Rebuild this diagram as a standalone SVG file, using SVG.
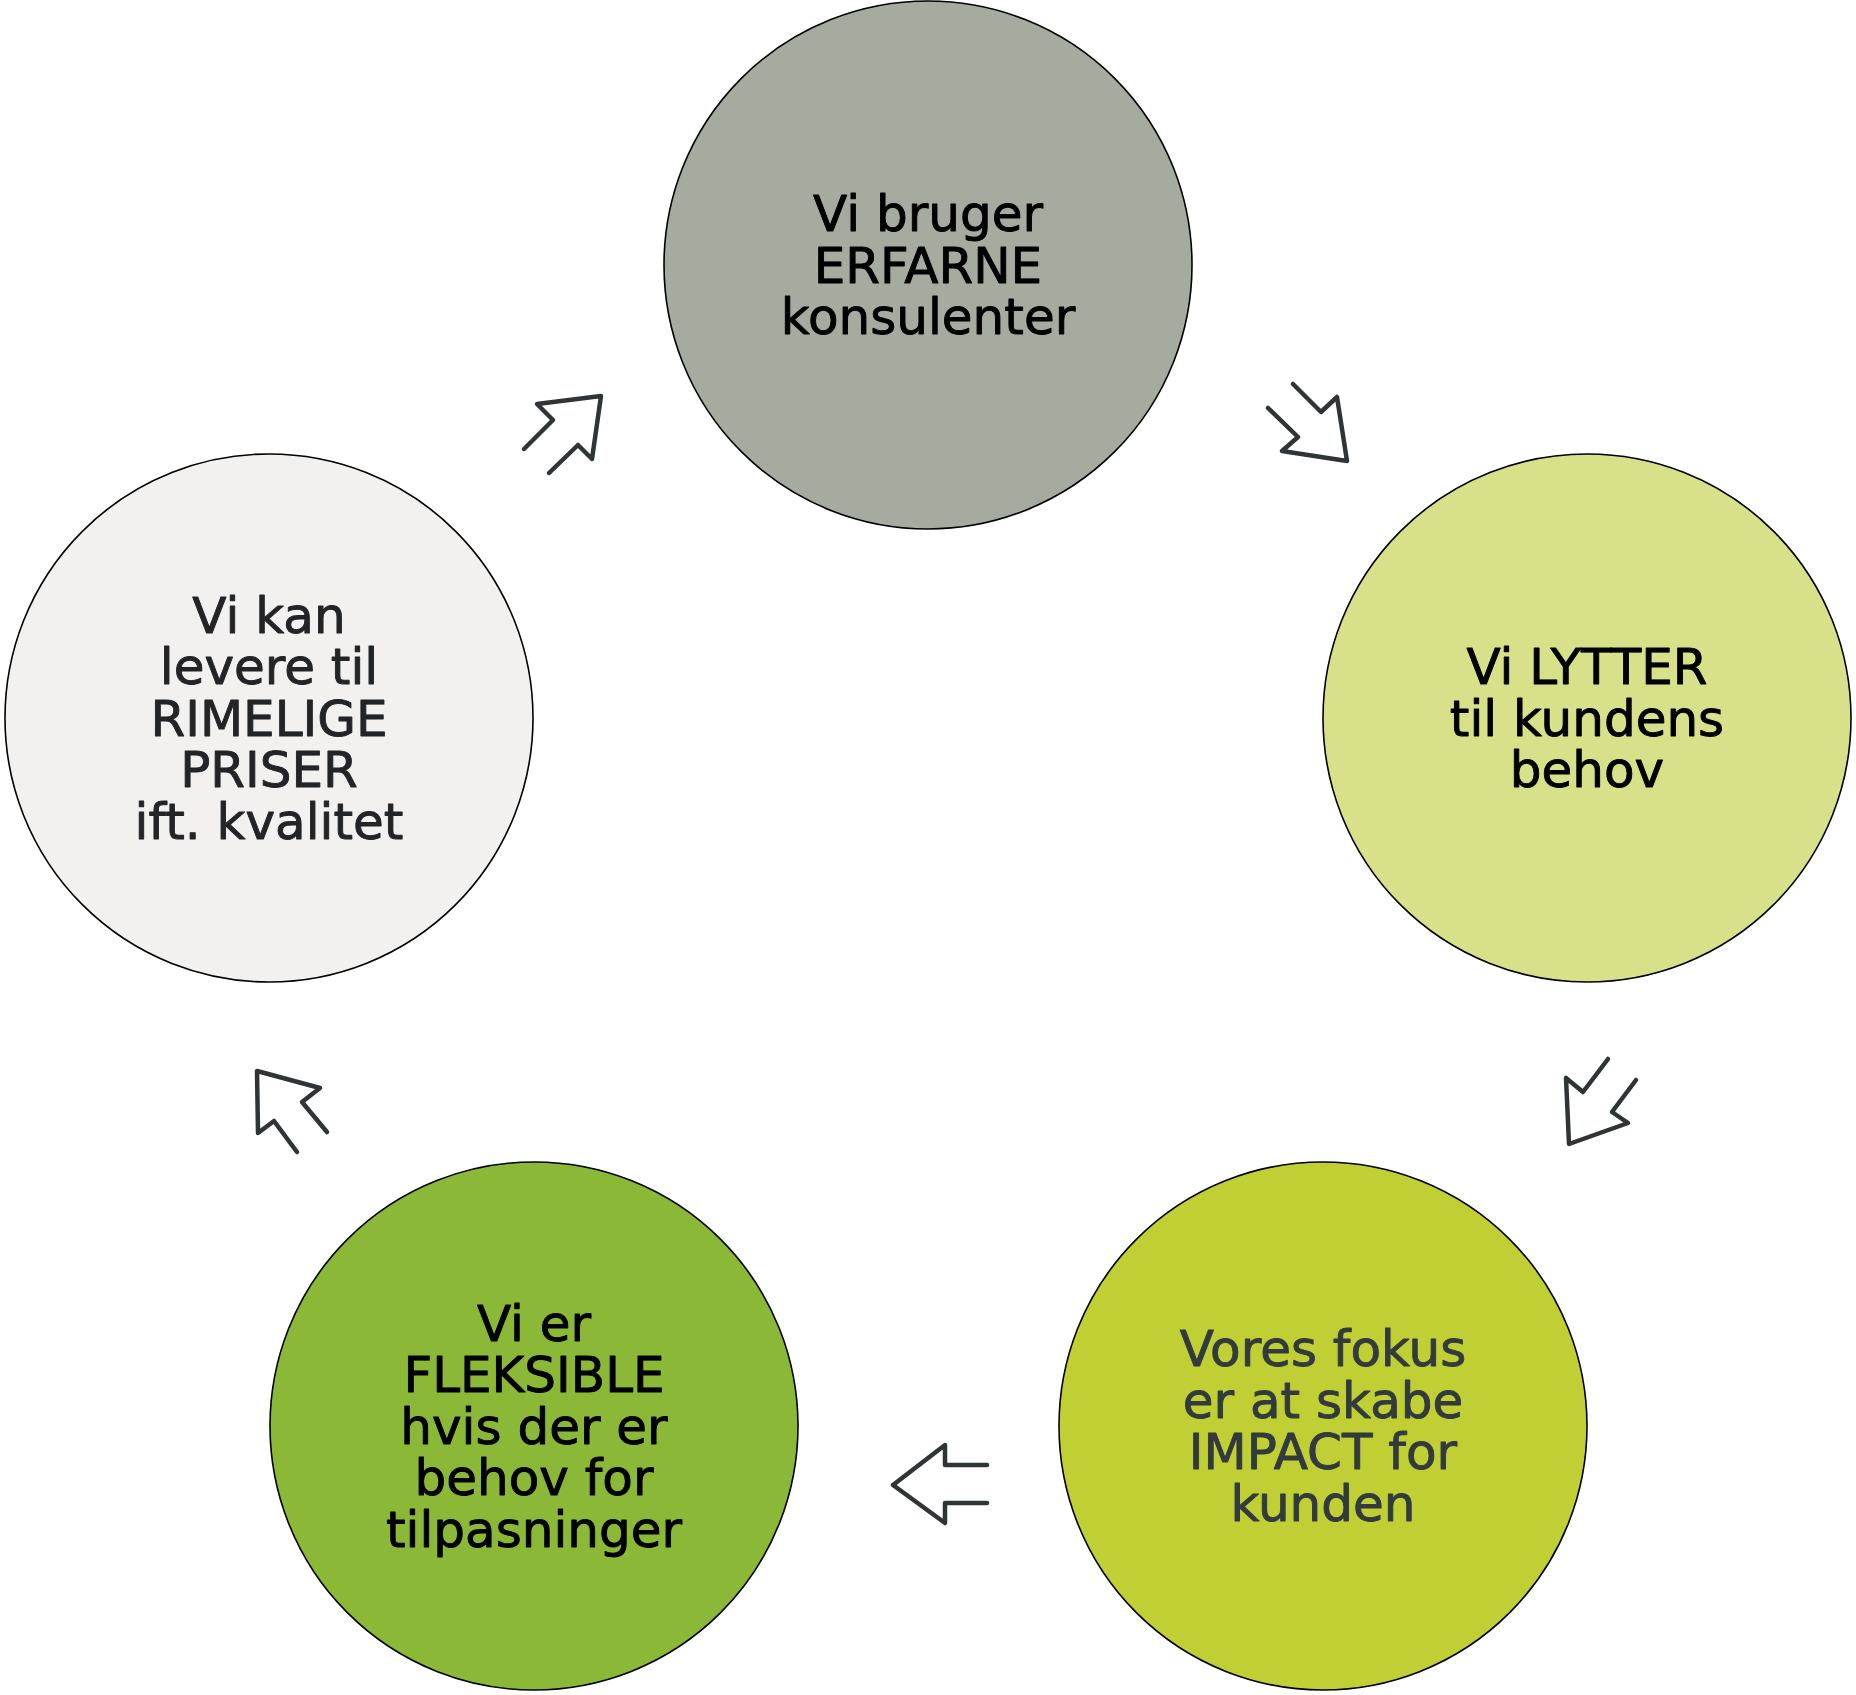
<svg xmlns="http://www.w3.org/2000/svg" width="1856" height="1695" viewBox="0 0 1856 1695">
<style>
.node circle{stroke:#000;stroke-width:1.6}
.node text{font-family:"DejaVu Sans","Verdana",sans-serif;font-size:50px;text-anchor:middle;stroke-width:0.9;stroke-linejoin:round}
.dark{fill:#000;stroke:#000}
.gray{fill:#222428;stroke:#222428}
.slate{fill:#323a3e;stroke:#323a3e}
.arrow{fill:none;stroke:#2f3437;stroke-width:4.5;stroke-linecap:round;stroke-linejoin:round}
</style>
<rect width="1856" height="1695" fill="#fff"/>
<g id="connectors">
<polyline class="arrow" points="524,449 553,420 537,404 601,396 592,459 578,445 549,473"/>
<polyline class="arrow" points="1293,384 1321,412 1337,397 1347,461 1282,451 1298,437 1268,408"/>
<polyline class="arrow" points="1608,1059 1583,1092 1566,1078 1569,1144 1628,1123 1612,1112 1636,1080"/>
<polyline class="arrow" points="987,1465 945,1465 945,1445 893,1485 945,1523 945,1503 987,1503"/>
<polyline class="arrow" points="327,1132 302,1102 320,1088 257,1071 258,1133 274,1121 297,1152"/>
</g>
<g id="node-top" class="node">
<circle cx="928" cy="265" r="264" fill="#a6aba0"/>
<text class="dark"><tspan x="928" y="231">Vi bruger</tspan><tspan x="928" y="283">ERFARNE</tspan><tspan x="928" y="334">konsulenter</tspan></text>
</g>
<g id="node-right" class="node">
<circle cx="1587" cy="718" r="264" fill="#d8e18a"/>
<text class="dark"><tspan x="1587" y="684">Vi LYTTER</tspan><tspan x="1587" y="736">til kundens</tspan><tspan x="1587" y="787">behov</tspan></text>
</g>
<g id="node-bottom-right" class="node">
<circle cx="1323" cy="1426" r="264" fill="#bfcf34"/>
<text class="slate"><tspan x="1323" y="1366">Vores fokus</tspan><tspan x="1323" y="1418">er at skabe</tspan><tspan x="1323" y="1469">IMPACT for</tspan><tspan x="1323" y="1521">kunden</tspan></text>
</g>
<g id="node-bottom-left" class="node">
<circle cx="534" cy="1426" r="264" fill="#8bb836"/>
<text class="dark"><tspan x="534" y="1341">Vi er</tspan><tspan x="534" y="1392">FLEKSIBLE</tspan><tspan x="534" y="1444">hvis der er</tspan><tspan x="534" y="1495">behov for</tspan><tspan x="534" y="1547">tilpasninger</tspan></text>
</g>
<g id="node-left" class="node">
<circle cx="269" cy="718" r="264" fill="#f2f1ef"/>
<text class="gray"><tspan x="269" y="633">Vi kan</tspan><tspan x="269" y="684">levere til</tspan><tspan x="269" y="736">RIMELIGE</tspan><tspan x="269" y="787">PRISER</tspan><tspan x="269" y="839">ift. kvalitet</tspan></text>
</g>
</svg>
